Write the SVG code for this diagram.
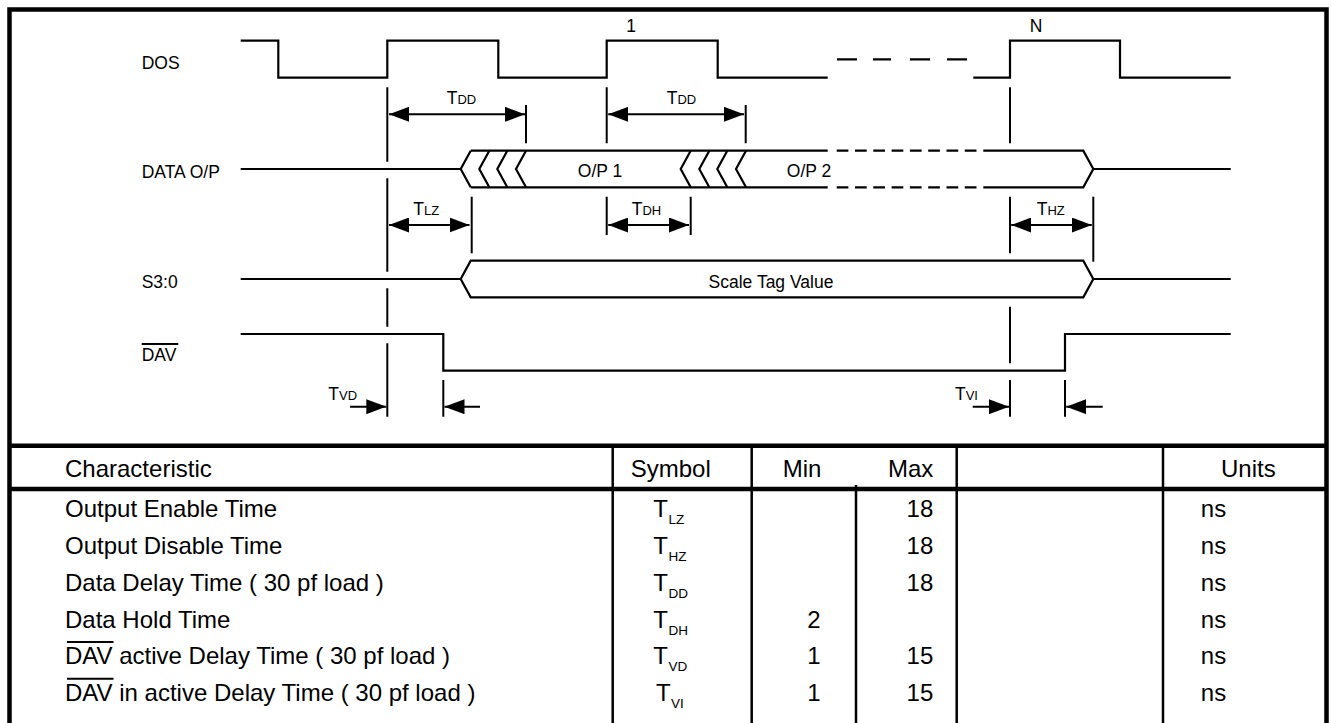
<svg xmlns="http://www.w3.org/2000/svg" width="1331" height="723" viewBox="0 0 1331 723">
<defs>
<style>
text{font-family:"Liberation Sans",Arial,Helvetica,sans-serif;fill:#000}
.lbl{font-size:17.5px}
.sub{font-size:13px}
.tb{font-size:24px}
.ts{font-size:13.5px}
.w{fill:none;stroke:#000;stroke-width:2.2;stroke-linejoin:miter}
.m{fill:none;stroke:#000;stroke-width:2}
.d2{fill:none;stroke:#000;stroke-width:2;marker-start:url(#ah);marker-end:url(#ah)}
.d1{fill:none;stroke:#000;stroke-width:2;marker-end:url(#ah)}
.frame{fill:none;stroke:#000;stroke-width:4.5}
.col{fill:none;stroke:#000;stroke-width:2.5}
.ov{stroke:#000;stroke-width:2}
</style>
<marker id="ah" markerUnits="userSpaceOnUse" markerWidth="20" markerHeight="15" refX="20" refY="7.5" orient="auto-start-reverse" viewBox="0 0 20 15">
<path d="M0,0 L20,7.5 L0,15 z" fill="#000"/>
</marker>
</defs>

<g id="frame">
<path class="frame" d="M9.5,735 V9.5 H1326.5 V735"/>
<line class="frame" x1="9.5" y1="445.8" x2="1326.5" y2="445.8"/>
</g>

<g id="signal-labels">
<text class="lbl" x="141.7" y="69">DOS</text>
<text class="lbl" x="141.7" y="178.3">DATA O/P</text>
<text class="lbl" x="141.7" y="288.3">S3:0</text>
<text class="lbl" x="141.7" y="360.7">DAV</text>
<line class="ov" x1="141.7" y1="344" x2="178.3" y2="344" stroke-width="1.8"/>
<text class="lbl" x="631" y="32" text-anchor="middle">1</text>
<text class="lbl" x="1036" y="32" text-anchor="middle">N</text>
</g>

<g id="DOS">
<path class="w" d="M240.7,40.7 H278.3 V77.7 H387.3 V40.7 H498.3 V77.7 H606.7 V40.7 H717.7 V77.7 H827.7"/>
<path class="w" d="M837,59.3 H857 M873,59.3 H891 M910,59.3 H930 M947,59.3 H967"/>
<path class="w" d="M973.3,77.7 H1010 V40.7 H1120 V77.7 H1230.7"/>
</g>

<g id="DATA-OP">
<path class="w" d="M240.7,169 H460.7"/>
<path class="w" d="M470.7,150.7 H827.7 M470.7,187.3 H827.7"/>
<path class="w" d="M470.7,150.7 L460.7,169 L470.7,187.3 M489.3,150.7 L479.3,169 L489.3,187.3 M507.3,150.7 L497.3,169 L507.3,187.3 M526,150.7 L516,169 L526,187.3"/>
<path class="w" d="M690.7,150.7 L680.7,169 L690.7,187.3 M709.3,150.7 L699.3,169 L709.3,187.3 M727.3,150.7 L717.3,169 L727.3,187.3 M746,150.7 L736,169 L746,187.3"/>
<path class="w" d="M836.7,150.7 H976.7 M836.7,187.3 H976.7" stroke-dasharray="11.7 6.6"/>
<path class="w" d="M983.3,150.7 H1083.3 L1093.3,169 L1083.3,187.3 H983.3"/>
<path class="w" d="M1093.3,169 H1230.7"/>
<text class="lbl" x="600" y="176.7" text-anchor="middle">O/P 1</text>
<text class="lbl" x="809" y="176.7" text-anchor="middle">O/P 2</text>
</g>

<g id="S3-0">
<path class="w" d="M240.7,279 H460.7 M1093.3,279 H1230.7"/>
<path class="w" d="M460.7,279 L470.7,260.7 H1083.3 L1093.3,279 L1083.3,297.3 H470.7 Z"/>
<text class="lbl" x="771" y="288.3" text-anchor="middle">Scale Tag Value</text>
</g>

<g id="DAV">
<path class="w" d="M240.7,334 H443.3 V370.7 H1065 V334 H1230.7"/>
</g>

<g id="connectors">
<path class="m" d="M387.3,87.3 V161.7 M387.3,178.3 V271.7 M387.3,288.3 V326.7 M387.3,343.3 V416.7"/>
<path class="m" d="M526,105 V143.3 M745.7,105 V143.3"/>
<path class="m" d="M606.7,87.3 V143.3 M606.7,196.7 V235 M690.7,196.7 V235"/>
<path class="m" d="M471.7,196.7 V253.3"/>
<path class="m" d="M1010,87.3 V143.3 M1010,196.7 V253.3 M1010,306.7 V363.3 M1010,380 V416.7"/>
<path class="m" d="M1093.3,196.7 V261.7"/>
<path class="m" d="M443.3,380 V416.7 M1065,380 V416.7"/>
<line class="d2" x1="389" y1="114.3" x2="525" y2="114.3"/>
<line class="d2" x1="608.2" y1="114.3" x2="744" y2="114.3"/>
<line class="d2" x1="389" y1="225" x2="469.5" y2="225"/>
<line class="d2" x1="608.2" y1="225" x2="689" y2="225"/>
<line class="d2" x1="1011.2" y1="225" x2="1091.8" y2="225"/>
<line class="d1" x1="350" y1="406.7" x2="386.3" y2="406.7"/>
<line class="d1" x1="480" y1="406.7" x2="444.5" y2="406.7"/>
<line class="d1" x1="972.7" y1="406.7" x2="1009" y2="406.7"/>
<line class="d1" x1="1102.7" y1="406.7" x2="1066.2" y2="406.7"/>
</g>

<g id="timing-labels">
<text class="lbl" x="446.7" y="104.3">T<tspan class="sub">DD</tspan></text>
<text class="lbl" x="666.7" y="104.3">T<tspan class="sub">DD</tspan></text>
<text class="lbl" x="413.3" y="215">T<tspan class="sub">LZ</tspan></text>
<text class="lbl" x="631.7" y="215">T<tspan class="sub">DH</tspan></text>
<text class="lbl" x="1036.7" y="215">T<tspan class="sub">HZ</tspan></text>
<text class="lbl" x="328.3" y="400">T<tspan class="sub">VD</tspan></text>
<text class="lbl" x="955" y="400">T<tspan class="sub">VI</tspan></text>
</g>

<g id="table">
<line class="frame" x1="9.5" y1="489" x2="1326.5" y2="489" stroke-width="4"/>
<path class="col" d="M612.7,446 V723 M751.7,446 V723 M956.7,446 V723 M1163,446 V723 M856,485 V723"/>
<g class="tb">
<text x="65" y="477">Characteristic</text>
<text x="630.7" y="477">Symbol</text>
<text x="782.7" y="477">Min</text>
<text x="933.3" y="477" text-anchor="end">Max</text>
<text x="1221" y="477">Units</text>

<text x="65" y="516.7">Output Enable Time</text>
<text x="65" y="554">Output Disable Time</text>
<text x="65" y="590.8">Data Delay Time ( 30 pf load )</text>
<text x="65" y="627.7">Data Hold Time</text>
<text x="65" y="664.3">DAV active Delay Time ( 30 pf load )</text>
<text x="65" y="701">DAV in active Delay Time ( 30 pf load )</text>

<text x="653.3" y="516.7">T</text>
<text x="653.3" y="554">T</text>
<text x="653.3" y="590.8">T</text>
<text x="653.3" y="627.7">T</text>
<text x="653.3" y="664.3">T</text>
<text x="656" y="701">T</text>

<text x="820.5" y="627.7" text-anchor="end">2</text>
<text x="820.5" y="664.3" text-anchor="end">1</text>
<text x="820.5" y="701" text-anchor="end">1</text>

<text x="933.3" y="516.7" text-anchor="end">18</text>
<text x="933.3" y="554" text-anchor="end">18</text>
<text x="933.3" y="590.8" text-anchor="end">18</text>
<text x="933.3" y="664.3" text-anchor="end">15</text>
<text x="933.3" y="701" text-anchor="end">15</text>

<text x="1200.8" y="516.7">ns</text>
<text x="1200.8" y="554">ns</text>
<text x="1200.8" y="590.8">ns</text>
<text x="1200.8" y="627.7">ns</text>
<text x="1200.8" y="664.3">ns</text>
<text x="1200.8" y="701">ns</text>
</g>
<g class="ts">
<text x="668.5" y="523.7">LZ</text>
<text x="668.5" y="561">HZ</text>
<text x="668.5" y="597.8">DD</text>
<text x="668.5" y="634.7">DH</text>
<text x="668.5" y="671.3">VD</text>
<text x="671" y="708">VI</text>
</g>
<line class="ov" x1="67" y1="642" x2="113.5" y2="642"/>
<line class="ov" x1="67" y1="678.7" x2="113.5" y2="678.7"/>
</g>
</svg>
